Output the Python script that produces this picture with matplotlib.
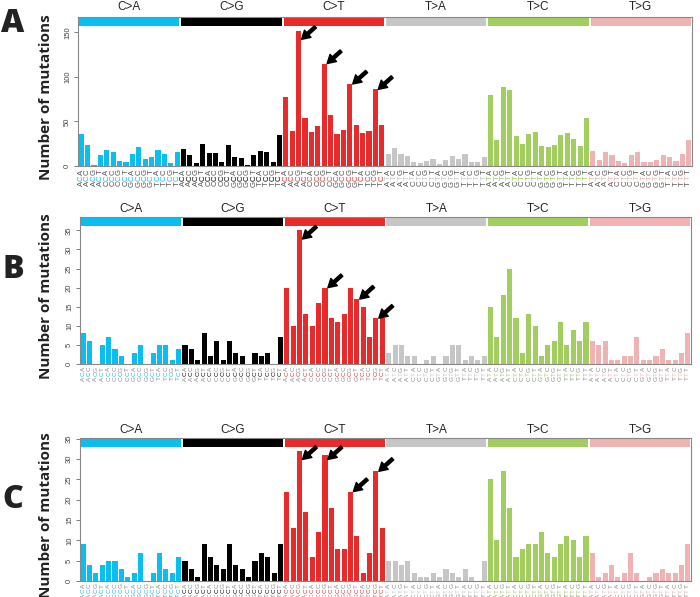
import matplotlib.pyplot as plt
from matplotlib.transforms import blended_transform_factory, offset_copy

groups = ['C>A', 'C>G', 'C>T', 'T>A', 'T>C', 'T>G']
group_colors = ['#0ABEF0', '#000000', '#E92A2A', '#C6C6C6', '#A1CE5E', '#EFB3B3']
bases = ['A', 'C', 'G', 'T']

# 96 trinucleotide counts per sample, 16 per substitution class
counts_a = [
    36, 24, 1, 12, 18, 16, 6, 5, 13, 21, 8, 10, 18, 13, 3, 16,
    19, 12, 3, 25, 15, 15, 4, 24, 10, 9, 1, 12, 17, 16, 4, 35,
    77, 39, 152, 54, 38, 45, 115, 57, 36, 40, 92, 46, 37, 39, 86, 46,
    13, 20, 14, 11, 5, 3, 6, 8, 2, 7, 11, 8, 13, 4, 4, 10,
    80, 29, 89, 85, 34, 25, 36, 38, 22, 21, 24, 35, 37, 30, 23, 54,
    17, 7, 16, 12, 6, 3, 12, 16, 4, 4, 7, 12, 10, 6, 13, 29,
]
counts_b = [
    8, 6, 0, 5, 7, 4, 2, 0, 3, 5, 0, 3, 5, 5, 1, 4,
    5, 4, 1, 8, 2, 6, 1, 6, 3, 2, 0, 3, 2, 3, 0, 7,
    20, 10, 35, 13, 10, 16, 20, 12, 11, 13, 20, 17, 15, 7, 12, 12,
    3, 5, 5, 2, 2, 0, 1, 2, 0, 2, 5, 5, 1, 2, 1, 2,
    15, 7, 18, 25, 12, 3, 13, 10, 2, 5, 6, 11, 5, 9, 6, 11,
    6, 5, 6, 1, 1, 2, 2, 7, 1, 1, 2, 4, 1, 1, 3, 8,
]
counts_c = [
    9, 4, 2, 4, 5, 5, 3, 1, 2, 7, 0, 2, 7, 3, 2, 6,
    5, 3, 1, 9, 6, 4, 3, 9, 4, 3, 1, 5, 7, 6, 2, 9,
    22, 13, 32, 17, 6, 12, 31, 18, 8, 8, 22, 11, 2, 7, 27, 13,
    5, 5, 4, 5, 2, 1, 1, 2, 1, 3, 2, 1, 3, 1, 0, 5,
    25, 10, 27, 18, 6, 8, 9, 9, 12, 7, 6, 9, 11, 10, 6, 11,
    7, 1, 2, 4, 1, 2, 7, 2, 0, 1, 2, 3, 2, 2, 4, 9,
]
# arrowed bars (index within all 96)
arrows_a = [34, 38, 42, 46]
arrows_b = [34, 38, 43, 46]
arrows_c = [34, 38, 42, 46]

yticks_a = [0, 50, 100, 150]
yticks_bc = [0, 5, 10, 15, 20, 25, 30, 35]

contexts = []
bar_colors = []
for g, name in enumerate(groups):
    for five in bases:
        for three in bases:
            contexts.append(five + name[0] + three)
            bar_colors.append(group_colors[g])

W, H = 700, 597
fig = plt.figure(figsize=(W / 100, H / 100), dpi=100)

# letter, data, arrows, ticks, axes box (px), label font size / offset / step / colour,
# title offset, letter centre y
panels = [
    ('A', counts_a, arrows_a, yticks_a, (78, 17, 692, 166), 5.6, 4.3, 4.2, '#555555', 7, 24),
    ('B', counts_b, arrows_b, yticks_bc, (80, 217, 691, 364), 4.6, 3.6, 3.4, '#8a8a8a', 6, 270),
    ('C', counts_c, arrows_c, yticks_bc, (80, 438, 691, 581), 4.6, 3.6, 3.4, '#8a8a8a', 6, 500),
]

for letter, counts, arrows, yticks, box, lab_fs, lab_d0, lab_step, lab_col, t_off, let_y in panels:
    x0, y0, x1, y1 = box
    ax = fig.add_axes([x0 / W, 1 - y1 / H, (x1 - x0) / W, (y1 - y0) / H])
    ytop = 1.1 * max(counts)
    ax.bar(range(96), counts, width=0.8, color=bar_colors, linewidth=0)
    ax.set_xlim(-0.5, 95.5)
    ax.set_ylim(0, ytop)
    ax.set_xticks([])
    ax.set_yticks(yticks)
    ax.tick_params(axis='y', length=3, width=0.6, color='#666666',
                   labelsize=5.5, labelcolor='#444444', pad=2)
    for t in ax.get_yticklabels():
        t.set_rotation(90)
        t.set_va('center')
        t.set_family('Liberation Sans')
    for s in ax.spines.values():
        s.set_color('#888888')
        s.set_linewidth(0.8)

    trans = blended_transform_factory(ax.transData, ax.transAxes)
    # class bands and titles
    for g, name in enumerate(groups):
        ax.add_patch(plt.Rectangle((g * 16 - 0.35, 0.94), 15.7, 0.052,
                                   transform=trans, color=group_colors[g],
                                   linewidth=0, clip_on=False))
        ax.text(g * 16 + 7.5, 1.0, name, transform=offset_copy(trans, fig, y=t_off, units='points'),
                ha='center', va='center', fontsize=8.5, family='Liberation Sans',
                color='#222222')

    # trinucleotide labels, middle base coloured
    for i, ctx in enumerate(contexts):
        for k, ch in enumerate(reversed(ctx)):
            col = bar_colors[i] if k == 1 else lab_col
            ax.text(i, 0, ch, transform=offset_copy(trans, fig, y=-(lab_d0 + k * lab_step), units='points'),
                    rotation=90, ha='center', va='center', fontsize=lab_fs,
                    family='Liberation Sans', color=col, clip_on=False)

    # arrows at CpG peaks
    for idx in arrows:
        yf = min(counts[idx] / ytop, 0.85)
        ax.annotate('', xy=(idx + 0.45, yf), xycoords=('data', 'axes fraction'),
                    xytext=(10, 9), textcoords='offset points',
                    arrowprops=dict(facecolor='black', edgecolor='black', width=2.2,
                                    headwidth=7, headlength=6, shrink=0))

    cy = 1 - (y0 + y1) / 2 / H
    fig.text(46 / W, cy - 6 / H, 'Number of mutations', rotation=90, ha='center', va='center',
             fontsize=11, fontweight='bold', family='Open Sans', color='#222222')
    fig.text(13 / W, 1 - let_y / H, letter, ha='center', va='center', fontsize=23,
             fontweight='heavy', family='Open Sans', color='#222222')

fig.savefig('out.png', dpi=100)
